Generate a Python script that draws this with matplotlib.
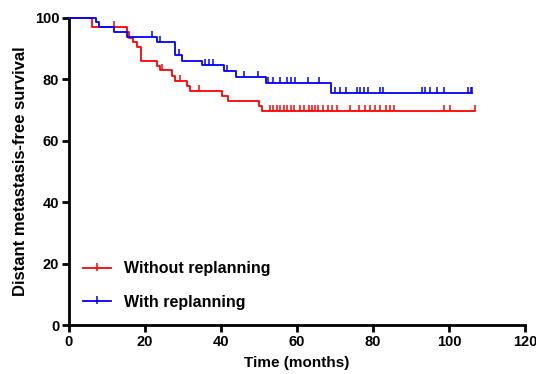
import numpy as np
import matplotlib
matplotlib.use("Agg")
import matplotlib.pyplot as plt
from matplotlib.path import Path
from matplotlib.lines import Line2D

# step curves (time in months, survival %)
red_times = [0, 6.0, 15.2, 15.8, 16.8, 18.0, 18.9, 23.1, 23.9, 27.0, 27.9, 31.0, 31.8, 40.2, 41.9, 50.0, 50.8, 106.8]
red_surv = [100, 97.0, 95.3, 93.6, 92.1, 90.6, 86.0, 84.5, 82.9, 81.2, 79.6, 77.9, 76.3, 74.5, 72.9, 71.2, 69.6, 69.6]
red_censor = [11.9, 24.4, 29.1, 34.1, 53.0, 53.8, 54.7, 55.6, 56.5, 57.5, 58.5, 59.2, 60.8, 61.8,
              63.2, 64.0, 64.8, 65.6, 66.8, 68.2, 69.3, 70.6, 73.9, 76.3, 77.9, 79.2, 80.6, 81.8,
              83.3, 84.5, 85.6, 98.6, 100.4, 106.8]

blue_times = [0, 7.0, 7.9, 11.9, 15.2, 23.1, 28.0, 29.8, 35.0, 40.8, 43.9, 51.8, 68.9, 106.0]
blue_surv = [100, 98.6, 97.1, 95.5, 93.9, 92.3, 88.0, 86.1, 84.6, 82.8, 80.9, 78.9, 75.4, 75.4]
blue_censor = [21.9, 24.0, 29.0, 35.8, 36.9, 38.0, 41.7, 46.0, 49.8, 52.3, 53.6, 55.6, 57.3, 58.3,
               59.5, 63.0, 65.9, 70.0, 71.2, 73.0, 75.9, 76.6, 77.6, 78.8, 81.8, 82.7, 92.8, 93.8,
               95.0, 96.9, 98.8, 104.9, 105.7, 106.0]

labels = ["Without replanning", "With replanning"]
colors = ["#ff0000", "#0000ff"]

plt.rcParams['font.family'] = ['Liberation Sans', 'DejaVu Sans']
plt.rcParams['font.weight'] = 'bold'

# upward censor tick
tick = Path([[0, 0], [0, 1]], [Path.MOVETO, Path.LINETO])
mid_tick = Path([[0, -0.6], [0, 1]], [Path.MOVETO, Path.LINETO])


def surv_at(times, surv, t):
    idx = np.searchsorted(times, t, side='right') - 1
    return np.asarray(surv)[idx]


fig = plt.figure(figsize=(5.36, 3.74), dpi=100)
ax = fig.add_axes([0.1287, 0.131, 0.8507, 0.821])

curves = [(red_times, red_surv, red_censor), (blue_times, blue_surv, blue_censor)]
for (t, s, c), col in zip(curves, colors):
    ax.plot(t, s, drawstyle='steps-post', color=col, lw=1.3, clip_on=False, zorder=3)
    ax.plot(c, surv_at(t, s, c), ls='none', marker=tick, markersize=8,
            markeredgewidth=1.1, color=col, clip_on=False, zorder=3)

handles = [Line2D([], [], color=col, lw=1.3, marker=mid_tick, markersize=7,
                  markeredgewidth=1.1) for col in colors]
ax.legend(handles, labels, loc='lower left', bbox_to_anchor=(0.03, 0.05),
          frameon=False, fontsize=11.5, handlelength=1.75, handletextpad=0.85,
          labelspacing=1.15, borderpad=0, borderaxespad=0, markerfirst=True)

ax.set_xlim(0, 120)
ax.set_ylim(0, 100)
ax.set_xticks(np.arange(0, 121, 20))
ax.set_yticks(np.arange(0, 101, 20))
for side in ['top', 'right']:
    ax.spines[side].set_visible(False)
for side in ['left', 'bottom']:
    ax.spines[side].set_linewidth(2.0)
ax.tick_params(width=2.0, length=5, labelsize=10.5, direction='out', pad=2)
ax.set_xlabel("Time (months)", fontsize=11, fontweight='bold', labelpad=5)
ax.set_ylabel("Distant metastasis-free survival", fontsize=12, fontweight='bold', labelpad=5)

fig.savefig("out.png", dpi=100)
